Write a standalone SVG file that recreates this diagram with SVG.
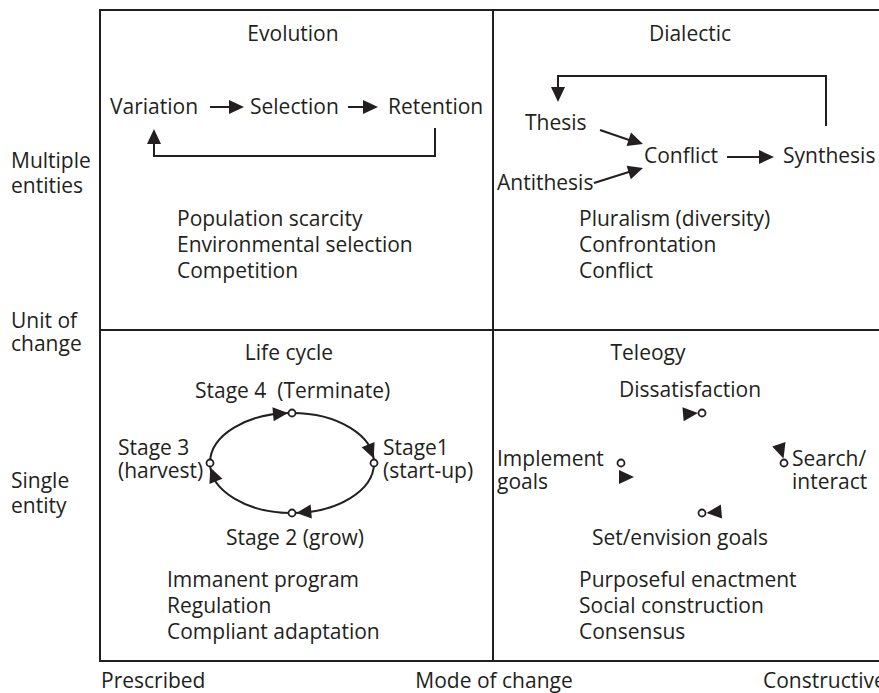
<svg xmlns="http://www.w3.org/2000/svg" xmlns:xlink="http://www.w3.org/1999/xlink" width="879" height="693" viewBox="0 0 879 693">
  <style>
    text { font-family: "Open Sans", "Noto Sans", "Liberation Sans", sans-serif; font-size: 21px; fill: #231f20; }
    .mid { text-anchor: middle; }
    .frame { fill: none; stroke: #231f20; stroke-width: 2; }
    .wire { fill: none; stroke: #231f20; stroke-width: 2; }
    .head { fill: #231f20; stroke: none; }
    .dot { fill: #ffffff; stroke: #231f20; stroke-width: 1.8; }
  </style>
  <defs>
    <!-- filled arrowhead, tip at origin, pointing along +x -->
    <path id="ah" class="head" d="M0,0 L-15,-7 L-15,7 Z"/>
  </defs>

  <!-- 2x2 grid -->
  <g id="grid">
    <rect class="frame" x="100" y="10" width="820" height="651"/>
    <line class="frame" x1="493" y1="10" x2="493" y2="661"/>
    <line class="frame" x1="100" y1="330" x2="900" y2="330"/>
  </g>

  <!-- axis labels -->
  <g id="axis-unit">
    <text x="11" y="168">Multiple</text>
    <text x="11" y="193">entities</text>
    <text x="11" y="328">Unit of</text>
    <text x="11" y="351">change</text>
    <text x="11" y="488">Single</text>
    <text x="11" y="513">entity</text>
  </g>
  <g id="axis-mode">
    <text x="101" y="688">Prescribed</text>
    <text class="mid" x="494" y="688">Mode of change</text>
    <text x="763" y="688">Constructive</text>
  </g>

  <!-- Evolution quadrant -->
  <g id="evolution">
    <text class="mid" x="293" y="41">Evolution</text>
    <g id="ev-variation"><text x="110" y="114">Variation</text></g>
    <g id="ev-selection"><text x="250" y="114">Selection</text></g>
    <g id="ev-retention"><text x="388" y="114">Retention</text></g>
    <text x="177" y="226">Population scarcity</text>
    <text x="177" y="252">Environmental selection</text>
    <text x="177" y="278">Competition</text>
  </g>

  <!-- Dialectic quadrant -->
  <g id="dialectic">
    <text class="mid" x="690" y="41">Dialectic</text>
    <g id="di-thesis"><text x="525" y="130">Thesis</text></g>
    <g id="di-antithesis"><text x="497" y="190">Antithesis</text></g>
    <g id="di-conflict"><text x="644" y="163">Conflict</text></g>
    <g id="di-synthesis"><text x="783" y="163">Synthesis</text></g>
    <text x="579" y="226">Pluralism (diversity)</text>
    <text x="579" y="252">Confrontation</text>
    <text x="579" y="278">Conflict</text>
  </g>

  <!-- Life cycle quadrant -->
  <g id="life-cycle">
    <text class="mid" x="289" y="360">Life cycle</text>
    <g id="lc-stage4"><text x="195" y="398" style="white-space:pre">Stage 4  (Terminate)</text></g>
    <g id="lc-stage1"><text x="383" y="455">Stage1</text><text x="383" y="478">(start-up)</text></g>
    <g id="lc-stage2"><text x="226" y="545">Stage 2 (grow)</text></g>
    <g id="lc-stage3"><text x="118" y="455">Stage 3</text><text x="118" y="478">(harvest)</text></g>
    <text x="167" y="587">Immanent program</text>
    <text x="167" y="613">Regulation</text>
    <text x="167" y="639">Compliant adaptation</text>
  </g>

  <!-- Teleology quadrant -->
  <g id="teleology">
    <text class="mid" x="648" y="360">Teleogy</text>
    <g id="te-dissatisfaction"><text class="mid" x="690" y="397">Dissatisfaction</text></g>
    <g id="te-search"><text x="792" y="466">Search/</text><text x="792" y="489">interact</text></g>
    <g id="te-set-goals"><text class="mid" x="680" y="545">Set/envision goals</text></g>
    <g id="te-implement"><text x="497" y="466">Implement</text><text x="497" y="489">goals</text></g>
    <text x="579" y="587">Purposeful enactment</text>
    <text x="579" y="613">Social construction</text>
    <text x="579" y="639">Consensus</text>
  </g>

  <!-- connectors -->
  <g id="connectors">
    <!-- evolution -->
    <line class="wire" x1="210" y1="107" x2="232" y2="107"/>
    <use xlink:href="#ah" transform="translate(244,107)"/>
    <line class="wire" x1="348" y1="107" x2="366" y2="107"/>
    <use xlink:href="#ah" transform="translate(378,107)"/>
    <polyline class="wire" points="435,128 435,156 154,156 154,140"/>
    <use xlink:href="#ah" transform="translate(154,129) rotate(-90)"/>

    <!-- dialectic -->
    <polyline class="wire" points="826,126 826,76 558,76 558,90"/>
    <use xlink:href="#ah" transform="translate(558,102) rotate(90)"/>
    <line class="wire" x1="600" y1="130" x2="632" y2="141"/>
    <use xlink:href="#ah" transform="translate(643,144) rotate(18.4)"/>
    <line class="wire" x1="594" y1="183" x2="632" y2="171"/>
    <use xlink:href="#ah" transform="translate(643,168) rotate(-17.4)"/>
    <line class="wire" x1="727" y1="157" x2="762" y2="157"/>
    <use xlink:href="#ah" transform="translate(774,157)"/>

    <!-- life cycle ring -->
    <ellipse class="wire" cx="292" cy="463" rx="82" ry="50"/>
    <use xlink:href="#ah" transform="translate(288,413) rotate(-5)"/>
    <use xlink:href="#ah" transform="translate(373.7,458.6) rotate(68)"/>
    <use xlink:href="#ah" transform="translate(296.3,512.9) rotate(175)"/>
    <use xlink:href="#ah" transform="translate(210.3,467.4) rotate(-112)"/>
    <circle class="dot" cx="292" cy="413" r="3.5"/>
    <circle class="dot" cx="374" cy="463" r="3.5"/>
    <circle class="dot" cx="292" cy="513" r="3.5"/>
    <circle class="dot" cx="210" cy="463" r="3.5"/>

    <!-- teleology markers -->
    <use xlink:href="#ah" transform="translate(698,413) rotate(-5)"/>
    <use xlink:href="#ah" transform="translate(783.5,458.5) rotate(72)"/>
    <use xlink:href="#ah" transform="translate(706.5,512.9) rotate(175)"/>
    <use xlink:href="#ah" transform="translate(634,477)"/>
    <circle class="dot" cx="702" cy="413" r="3.5"/>
    <circle class="dot" cx="784" cy="463" r="3.5"/>
    <circle class="dot" cx="702" cy="513" r="3.5"/>
    <circle class="dot" cx="621" cy="463" r="3.5"/>
  </g>
</svg>
